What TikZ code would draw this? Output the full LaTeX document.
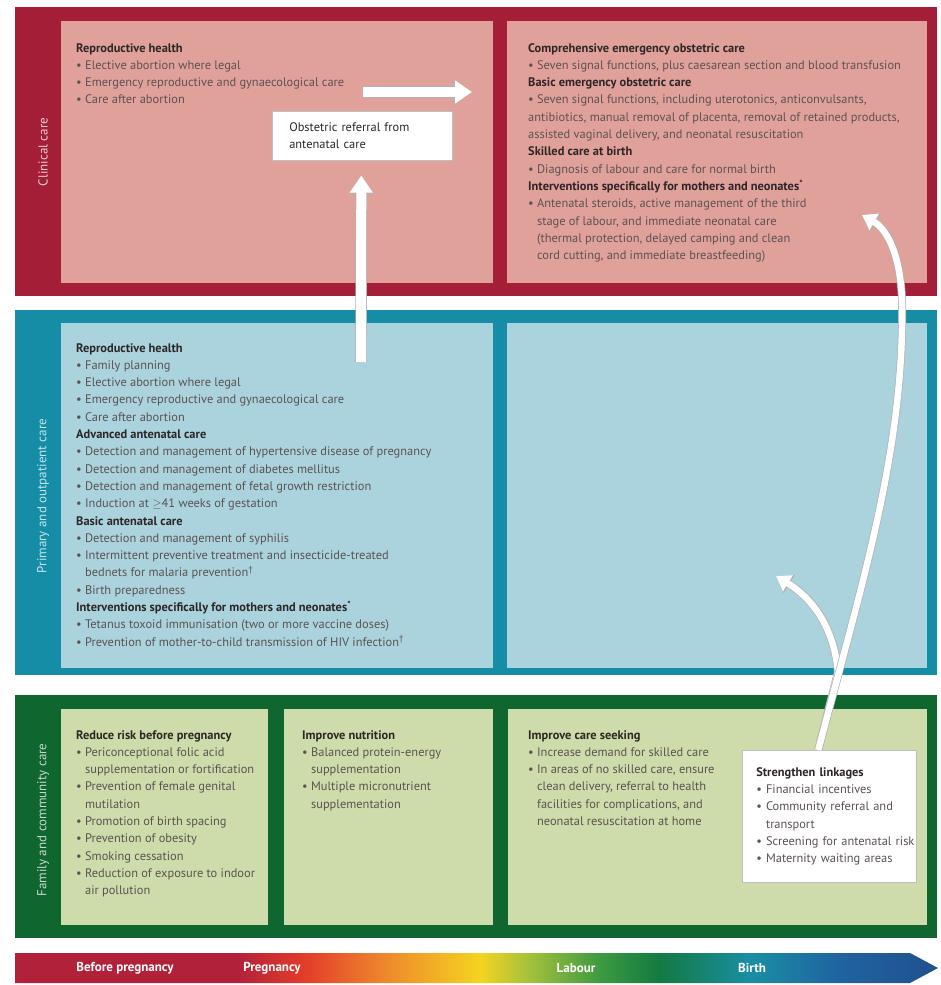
\documentclass[tikz,border=0pt]{standalone}
\usepackage{fontspec}
\setmainfont{PT Sans}
\usepackage{xcolor}
\usetikzlibrary{arrows.meta, positioning, calc}

\definecolor{clinout}{HTML}{A51E37}
\definecolor{clinin}{HTML}{E1A19B}
\definecolor{primout}{HTML}{168DA6}
\definecolor{primin}{HTML}{AAD3DD}
\definecolor{famout}{HTML}{10662F}
\definecolor{famin}{HTML}{CDDCAA}
\definecolor{bodytext}{HTML}{5C5252}
\definecolor{headtext}{HTML}{2E2626}
\definecolor{tlcrimson}{HTML}{B2213A}
\definecolor{tlred}{HTML}{E23A2A}
\definecolor{tlorange}{HTML}{EF8C2C}
\definecolor{tlyellow}{HTML}{F5D320}
\definecolor{tlyg}{HTML}{A6C13C}
\definecolor{tlgreen}{HTML}{3C9A40}
\definecolor{tldkgreen}{HTML}{137A42}
\definecolor{tlteal}{HTML}{1A8EA4}
\definecolor{tlblue}{HTML}{1F63A0}
\definecolor{tldkblue}{HTML}{20508E}

\pgfdeclarehorizontalshading{timeline}{100bp}{color(0bp)=(tlcrimson); color(25bp)=(tlcrimson);
  color(37bp)=(tlcrimson); color(40.5bp)=(tlred); color(45.3bp)=(tlorange); color(50.2bp)=(tlyellow);
  color(52.8bp)=(tlyg); color(56.7bp)=(tlgreen); color(59.9bp)=(tldkgreen); color(64.8bp)=(tlteal);
  color(69.7bp)=(tlblue); color(75bp)=(tldkblue); color(100bp)=(tldkblue)}

\newcommand{\hd}[1]{{\bfseries\color{headtext}#1}}
\newcommand{\bitem}{\textbullet\ }
\newcommand{\bcont}{\phantom{\textbullet\ }}

\tikzset{
  blurb/.style={anchor=north west, inner sep=0pt, align=left, text=bodytext,
    font=\fontsize{12.4}{17.3}\selectfont},
  sidelabel/.style={rotate=90, inner sep=0pt, font=\fontsize{13}{15}\selectfont},
  whitebox/.style={fill=white, draw=black!25, line width=0.6pt, inner ysep=0pt, align=left,
    text=headtext, font=\fontsize{12.4}{17.3}\selectfont},
  phase/.style={text=white, inner sep=0pt, font=\bfseries\fontsize{13}{15}\selectfont},
  fatarrow/.style={white, line width=10pt, -{Triangle[length=17pt,width=22pt]},
    preaction={draw=black!30, line width=11.4pt, -{Triangle[length=18.5pt,width=24.5pt]}}},
  thinarrow/.style={white, line width=6.5pt, -{Triangle[length=14pt,width=18pt]},
    preaction={draw=black!30, line width=7.9pt, -{Triangle[length=15.5pt,width=20.5pt]}}}
}

\begin{document}
\begin{tikzpicture}[x=1pt, y=-1pt]
  \useasboundingbox (0,0) rectangle (941,985);
  \fill[white] (0,0) rectangle (941,985);

  % three levels of care
  \fill[clinout] (15,7) rectangle (937,296);
  \fill[clinin] (61,21) rectangle (493,283);
  \fill[clinin] (507,21) rectangle (927,283);
  \fill[primout] (15,310) rectangle (937,675);
  \fill[primin] (61,323) rectangle (493,668);
  \fill[primin] (507,323) rectangle (927,668);
  \fill[famout] (15,695) rectangle (937,938);
  \fill[famin] (61,709) rectangle (268,925);
  \fill[famin] (284,709) rectangle (493,925);
  \fill[famin] (508,709) rectangle (927,925);

  \node[sidelabel, text=white!78!clinout] (lclin) at (43,152) {Clinical care};
  \node[sidelabel, text=white!75!primout] (lprim) at (43,496) {Primary and outpatient care};
  \node[sidelabel, text=white!75!famout] (lfam) at (43,820) {Family and community care};

  % clinical care
  \node[blurb] (clinL) at (76,43) {\hd{Reproductive health}\\
    \bitem Elective abortion where legal\\
    \bitem Emergency reproductive and gynaecological care\\
    \bitem Care after abortion};
  \node[blurb] (clinR) at (528,43) {\hd{Comprehensive emergency obstetric care}\\
    \bitem Seven signal functions, plus caesarean section and blood transfusion\\
    \hd{Basic emergency obstetric care}\\
    \bitem Seven signal functions, including uterotonics, anticonvulsants,\\
    antibiotics, manual removal of placenta, removal of retained products,\\
    assisted vaginal delivery, and neonatal resuscitation\\
    \hd{Skilled care at birth}\\
    \bitem Diagnosis of labour and care for normal birth\\
    \hd{Interventions specifically for mothers and neonates\textsuperscript{*}}\\
    \bitem Antenatal steroids, active management of the third\\
    \bcont stage of labour, and immediate neonatal care\\
    \bcont (thermal protection, delayed camping and clean\\
    \bcont cord cutting, and immediate breastfeeding)};
  \node[whitebox, anchor=north west, minimum height=49pt, text width=146pt, inner xsep=17pt]
    (referral) at (272,111) {Obstetric referral from\\antenatal care};

  % primary and outpatient care
  \node[blurb] (primL) at (76,343) {\hd{Reproductive health}\\
    \bitem Family planning\\
    \bitem Elective abortion where legal\\
    \bitem Emergency reproductive and gynaecological care\\
    \bitem Care after abortion\\
    \hd{Advanced antenatal care}\\
    \bitem Detection and management of hypertensive disease of pregnancy\\
    \bitem Detection and management of diabetes mellitus\\
    \bitem Detection and management of fetal growth restriction\\
    \bitem Induction at $\geq$41 weeks of gestation\\
    \hd{Basic antenatal care}\\
    \bitem Detection and management of syphilis\\
    \bitem Intermittent preventive treatment and insecticide-treated\\
    \bcont bednets for malaria prevention\textsuperscript{\textdagger}\\
    \bitem Birth preparedness\\
    \hd{Interventions specifically for mothers and neonates\textsuperscript{*}}\\
    \bitem Tetanus toxoid immunisation (two or more vaccine doses)\\
    \bitem Prevention of mother-to-child transmission of HIV infection\textsuperscript{\textdagger}};

  % family and community care
  \node[blurb] (famA) at (76,730) {\hd{Reduce risk before pregnancy}\\
    \bitem Periconceptional folic acid\\
    \bcont supplementation or fortification\\
    \bitem Prevention of female genital\\
    \bcont mutilation\\
    \bitem Promotion of birth spacing\\
    \bitem Prevention of obesity\\
    \bitem Smoking cessation\\
    \bitem Reduction of exposure to indoor\\
    \bcont air pollution};
  \node[blurb] (famB) at (302,730) {\hd{Improve nutrition}\\
    \bitem Balanced protein-energy\\
    \bcont supplementation\\
    \bitem Multiple micronutrient\\
    \bcont supplementation};
  \node[blurb] (famC) at (528,730) {\hd{Improve care seeking}\\
    \bitem Increase demand for skilled care\\
    \bitem In areas of no skilled care, ensure\\
    \bcont clean delivery, referral to health\\
    \bcont facilities for complications, and\\
    \bcont neonatal resuscitation at home};
  \node[whitebox, anchor=north west, minimum height=132pt, text width=146pt, inner xsep=14pt,
    text=bodytext] (linkage) at (742,750) {\hd{Strengthen linkages}\\
    \bitem Financial incentives\\
    \bitem Community referral and\\
    \bcont transport\\
    \mbox{\bitem Screening for antenatal risk}\\
    \bitem Maternity waiting areas};

  % referral arrows
  \coordinate (hbase) at (363,92);
  \coordinate (htip) at (472,92);
  \coordinate (vbase) at (361,362);
  \coordinate (ctip) at (862,215);
  \coordinate (stip) at (776,576);
  \draw[fatarrow] (hbase) -- (htip);
  \draw[fatarrow] (vbase) -- ($(referral.south)+(-1,15)$);
  \draw[thinarrow] ([xshift=-11pt]linkage.north) -- (838,672)
    .. controls (834,630) and (815,600) .. (stip);
  \draw[thinarrow] ([xshift=-11pt]linkage.north) .. controls (860,590) and (905,450) .. (902,300)
    .. controls (900,250) and (885,228) .. (ctip);

  % timeline
  \shade[shading=timeline] (15,953) -- (910,953) -- (938,968) -- (910,983) -- (15,983) -- cycle;
  \node[phase] (tbefore) at (125,968) {Before pregnancy};
  \node[phase] (tpreg) at (272,968) {Pregnancy};
  \node[phase] (tlabour) at (576,968) {Labour};
  \node[phase] (tbirth) at (752,968) {Birth};
\end{tikzpicture}
\end{document}
